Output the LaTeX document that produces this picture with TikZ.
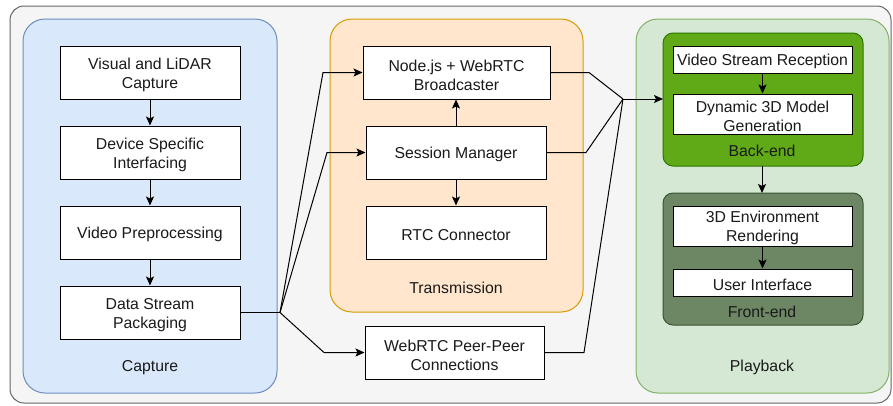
\documentclass[tikz,border=0pt]{standalone}
\usepackage{fontspec}
\setmainfont{Liberation Sans}
\usetikzlibrary{arrows.meta}
\definecolor{outerfill}{HTML}{F5F5F5}
\definecolor{outerdraw}{HTML}{666666}
\definecolor{capfill}{HTML}{DAE8FC}
\definecolor{capdraw}{HTML}{6C8EBF}
\definecolor{trfill}{HTML}{FFE6CC}
\definecolor{trdraw}{HTML}{D79B00}
\definecolor{pbfill}{HTML}{D5E8D4}
\definecolor{pbdraw}{HTML}{82B366}
\definecolor{befill}{HTML}{60A917}
\definecolor{bedraw}{HTML}{2D7600}
\definecolor{fefill}{HTML}{6D8764}
\definecolor{fedraw}{HTML}{3A5431}
\definecolor{txt}{HTML}{1A1A1A}
\begin{document}
\begin{tikzpicture}[x=1pt,y=-1pt,
  font=\fontsize{15.8}{19}\selectfont,
  box/.style={draw=black, fill=white, line width=1pt, inner sep=0pt},
  tx/.style={inner sep=0pt, align=center, text=txt, yshift=-2.4pt},
  arr/.style={line width=1pt, -{Stealth[length=9pt,width=8pt,inset=2pt]}},
  ln/.style={line width=1pt},
  lbl/.style={inner sep=0pt, text=txt}]
\useasboundingbox (0,0) rectangle (893,405);
\fill[white] (0,0) rectangle (893,405);
% outer
\draw[fill=outerfill, draw=outerdraw, line width=1pt, rounded corners=14pt] (10,6) rectangle (891,403);
% containers
\draw[fill=capfill, draw=capdraw, line width=1pt, rounded corners=22pt] (23,19) rectangle (277,393);
\draw[fill=trfill, draw=trdraw, line width=1pt, rounded corners=22pt] (330,19) rectangle (583,312);
\draw[fill=pbfill, draw=pbdraw, line width=1pt, rounded corners=22pt] (636,19) rectangle (889,393);
\draw[fill=befill, draw=bedraw, line width=1pt, rounded corners=10pt] (663,33) rectangle (863,166);
\draw[fill=fefill, draw=fedraw, line width=1pt, rounded corners=10pt] (663,193) rectangle (863,325);
% labels
\node[lbl] (lcap) at (150,367.5) {Capture};
\node[lbl] (ltr) at (456,287.5) {Transmission};
\node[lbl] (lpb) at (762,367.5) {Playback};
\node[lbl] (lbe) at (762,150.5) {Back-end};
\node[lbl] (lfe) at (762,312) {Front-end};
% capture boxes
\node[box, minimum width=180pt, minimum height=53pt] (c1) at (150,72.5) {};
\node[box, minimum width=180pt, minimum height=53pt] (c2) at (150,152.5) {};
\node[box, minimum width=180pt, minimum height=53pt] (c3) at (150,232.5) {};
\node[box, minimum width=180pt, minimum height=53pt] (c4) at (150,312.5) {};
\node[tx] (c1t) at (c1) {Visual and LiDAR\\Capture};
\node[tx] (c2t) at (c2) {Device Specific\\Interfacing};
\node[tx] (c3t) at (c3) {Video Preprocessing};
\node[tx] (c4t) at (c4) {Data Stream\\Packaging};
% transmission boxes
\node[box, minimum width=187pt, minimum height=53pt] (nj) at (456.5,72.5) {};
\node[box, minimum width=180pt, minimum height=53pt] (sm) at (456,152.5) {};
\node[box, minimum width=180pt, minimum height=53pt] (rtc) at (456,232.5) {};
\node[box, minimum width=179pt, minimum height=53pt] (pp) at (454.5,352.5) {};
\node[tx] (njt) at (nj) {Node.js + WebRTC\\Broadcaster};
\node[tx] (smt) at (sm) {Session Manager};
\node[tx] (rtct) at (rtc) {RTC Connector};
\node[tx] (ppt) at (pp) {WebRTC Peer-Peer\\Connections};
% playback boxes
\node[box, minimum width=179pt, minimum height=27pt] (vsr) at (762.5,59.5) {};
\node[box, minimum width=179pt, minimum height=40pt] (d3m) at (762.5,114) {};
\node[box, minimum width=179pt, minimum height=40pt] (env) at (762.5,226) {};
\node[box, minimum width=179pt, minimum height=27pt] (ui) at (762.5,282.5) {};
\node[tx] (vsrt) at (vsr) {Video Stream Reception};
\node[tx] (d3mt) at (d3m) {Dynamic 3D Model\\Generation};
\node[tx] (envt) at (env) {3D Environment\\Rendering};
\node[tx] (uit) at (ui) {User Interface};
% group anchors
\coordinate (beL) at (663,99);
\coordinate (beB) at (762,166);
\coordinate (feT) at (762,193);
\coordinate (j1) at (280,312.5);
\coordinate (j2) at (623,99);
% arrows
\draw[arr] (c1) -- (c2);
\draw[arr] (c2) -- (c3);
\draw[arr] (c3) -- (c4);
\draw[arr] (sm) -- (nj.south -| sm);
\draw[arr] (sm) -- (rtc);
\draw[arr] (vsr) -- (d3m);
\draw[arr] (beB) -- (feT);
\draw[arr] (env) -- (ui);
\draw[ln] (c4.east) -- (j1);
\draw[arr] (j1) -- (323,72.5) -- (nj.west);
\draw[arr] (j1) -- (327,152.5) -- (sm.west);
\draw[arr] (j1) -- (324,352.5) -- (pp.west);
\draw[ln] (nj.east) -- (589,72.5) -- (j2);
\draw[ln] (sm.east) -- (586,152.5) -- (j2);
\draw[ln] (pp.east) -- (584,352.5) -- (j2);
\draw[arr] (j2) -- (beL);
\end{tikzpicture}
\end{document}
